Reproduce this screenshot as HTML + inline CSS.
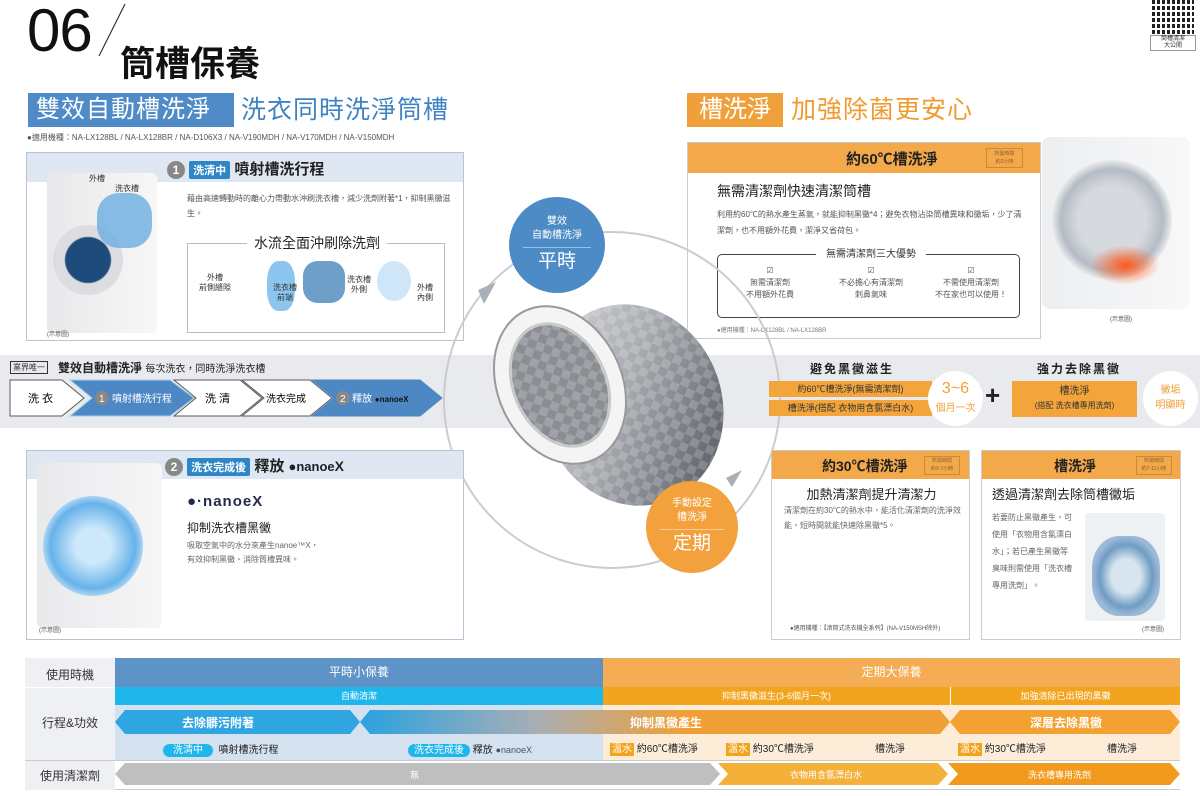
<!DOCTYPE html>
<html><head><meta charset="utf-8"><style>
*{margin:0;padding:0;box-sizing:border-box}
body{width:1200px;height:796px;background:#fff;position:relative;overflow:hidden;font-family:"Liberation Sans","Noto Sans CJK TC",sans-serif;color:#333}
.a{position:absolute}
.c{text-align:center}
.panel{position:absolute;border:1px solid #b8c4d2;background:#fff}
.ph{position:absolute;left:0;right:0;top:0}
.num{display:inline-block;width:18px;height:18px;border-radius:50%;background:#888;color:#fff;font-size:12px;line-height:18px;text-align:center;vertical-align:middle}
.tag{display:inline-block;background:#2e86c6;color:#fff;font-size:11px;padding:1px 4px;border-radius:2px;vertical-align:middle}
.ob{position:absolute;background:#f3a43b;color:#333;font-size:9px;text-align:center}
</style></head><body>
<div class="a" style="left:27px;top:-4px;font-size:60px;color:#111;letter-spacing:-1px">06</div>
<svg class="a" style="left:95px;top:0" width="35" height="60"><line x1="4" y1="56" x2="30" y2="4" stroke="#333" stroke-width="1.2"/></svg>
<div class="a" style="left:120px;top:36px;font-size:35px;font-weight:bold;color:#111">筒槽保養</div>
<div class="a" style="left:1152px;top:0;width:42px;height:34px;background:
repeating-linear-gradient(0deg,transparent 0 4px,#fff 4px 6px),repeating-linear-gradient(90deg,#222 0 3px,#fff 3px 5px)"></div>
<div class="a c" style="left:1150px;top:35px;width:46px;font-size:6px;line-height:7px;border:1px solid #999">筒槽清潔<br>大公開</div>

<div class="a" style="left:28px;top:93px;width:206px;height:34px;background:#4f8bc6;color:#fff;font-size:24px;line-height:34px;padding-left:8px;letter-spacing:1px">雙效自動槽洗淨</div>
<div class="a" style="left:241px;top:93px;font-size:25px;line-height:34px;color:#3f83c3;letter-spacing:1px">洗衣同時洗淨筒槽</div>
<div class="a" style="left:27px;top:132px;font-size:8px;color:#555">●適用機種：NA-LX128BL / NA-LX128BR / NA-D106X3 / NA-V190MDH / NA-V170MDH / NA-V150MDH</div>

<div class="panel" style="left:26px;top:152px;width:438px;height:189px">
 <div class="ph" style="height:29px;background:#dfe7f2"></div>
 <div class="a" style="left:140px;top:5px;font-size:15px;font-weight:bold;color:#222"><span class="num">1</span> <span class="tag">洗清中</span> 噴射槽洗行程</div>
 <div class="a" style="left:20px;top:20px;width:110px;height:160px;background:linear-gradient(90deg,#e8e8ea,#f7f7f8);border-radius:6px"></div>
 <div class="a" style="left:26px;top:72px;width:70px;height:70px;border-radius:50%;background:radial-gradient(#1e4a7c 45%,#dcdde0 48%)"></div>
 <div class="a" style="left:70px;top:40px;width:55px;height:55px;border-radius:40%;background:#6aaee0;opacity:.8"></div>
 <div class="a" style="left:62px;top:20px;font-size:8px">外槽</div>
 <div class="a" style="left:88px;top:30px;font-size:8px">洗衣槽</div>
 <div class="a" style="left:20px;top:176px;font-size:6px;color:#555">(示意圖)</div>
 <div class="a" style="left:160px;top:38px;width:270px;font-size:8px;line-height:15px;color:#555">藉由高速轉動時的離心力帶動水沖刷洗衣槽，減少洗劑附著*1，抑制黑黴滋生。</div>
 <div class="a" style="left:160px;top:90px;width:258px;height:90px;border:1px solid #bbb"></div>
 <div class="a c" style="left:220px;top:80px;width:140px;background:#fff;font-size:14px;color:#222">水流全面沖刷除洗劑</div>
 <div class="a" style="left:240px;top:108px;width:28px;height:50px;border-radius:40%;background:#8cc5ee"></div>
 <div class="a" style="left:276px;top:108px;width:42px;height:42px;border-radius:35%;background:#6e9fc8"></div>
 <div class="a" style="left:350px;top:108px;width:34px;height:40px;border-radius:50%;background:#cfe6f8"></div>
 <div class="a c" style="left:172px;top:120px;font-size:8px;line-height:10px">外槽<br>前側縫隙</div>
 <div class="a c" style="left:246px;top:130px;font-size:8px;line-height:10px">洗衣槽<br>前端</div>
 <div class="a c" style="left:320px;top:122px;font-size:8px;line-height:10px">洗衣槽<br>外側</div>
 <div class="a c" style="left:390px;top:130px;font-size:8px;line-height:10px">外槽<br>內側</div>
</div>

<div class="a" style="left:687px;top:93px;width:96px;height:34px;background:#f0a03a;color:#fff;font-size:24px;line-height:34px;text-align:center">槽洗淨</div>
<div class="a" style="left:791px;top:93px;font-size:25px;line-height:34px;color:#ef9b2f;letter-spacing:1px">加強除菌更安心</div>

<div class="panel" style="left:687px;top:142px;width:354px;height:197px;border-color:#ccc">
 <div class="ph" style="height:30px;background:#f3a84a"></div>
 <div class="a" style="left:158px;top:5px;font-size:15px;font-weight:bold;color:#222">約60℃槽洗淨</div>
 <div class="a c" style="left:298px;top:5px;width:37px;height:20px;border:1px solid #c98a3a;font-size:5px;line-height:8px;color:#8a6030;padding-top:1px">所需時間<br>約2小時</div>
 <div class="a" style="left:29px;top:38px;font-size:14px;color:#222">無需清潔劑快速清潔筒槽</div>
 <div class="a" style="left:29px;top:64px;width:310px;font-size:8px;line-height:16px;color:#555">利用約60℃的熱水產生蒸氣，就能抑制黑黴*4；避免衣物沾染筒槽異味和黴垢，少了清潔劑，也不用額外花費，潔淨又省荷包。</div>
 <div class="a" style="left:29px;top:111px;width:303px;height:64px;border:1px solid #444;border-radius:5px"></div>
 <div class="a c" style="left:128px;top:102px;width:110px;background:#fff;font-size:10px">無需清潔劑三大優勢</div>
 <div class="a c" style="left:32px;top:122px;width:100px;font-size:8px;line-height:12px;color:#555">☑<br>無需清潔劑<br>不用額外花費</div>
 <div class="a c" style="left:133px;top:122px;width:100px;font-size:8px;line-height:12px;color:#555">☑<br>不必擔心有清潔劑<br>刺鼻氣味</div>
 <div class="a c" style="left:228px;top:122px;width:110px;font-size:8px;line-height:12px;color:#555">☑<br>不需使用清潔劑<br>不在家也可以使用！</div>
 <div class="a" style="left:29px;top:182px;font-size:6px;color:#777">●適用機種：NA-LX128BL / NA-LX128BR</div>
</div>
<div class="a" style="left:1042px;top:137px;width:148px;height:172px;background:linear-gradient(90deg,#eceef0,#f8f8f9);border-radius:8px"></div>
<div class="a" style="left:1052px;top:160px;width:120px;height:120px;border-radius:50%;background:radial-gradient(#d6dadf 40%,#b5bcc4 60%,#e6e8ea 70%)"></div>
<div class="a" style="left:1090px;top:245px;width:70px;height:40px;border-radius:50%;background:radial-gradient(#ff5a1f,rgba(255,90,40,0) 70%)"></div>
<div class="a" style="left:1110px;top:314px;font-size:6px;color:#555">(示意圖)</div>

<div class="a" style="left:0;top:355px;width:1200px;height:73px;background:#e8eaed"></div>
<svg class="a" style="left:0;top:0" width="1200" height="796">
 <circle cx="612" cy="400" r="168" fill="none" stroke="#c9ccd0" stroke-width="2"/>
 <polygon points="484,304 496,282 478,290" fill="#aab0b8"/>
 <polygon points="726,478 742,470 732,487" fill="#aab0b8"/>
 <defs>
  <linearGradient id="dg" x1="0" y1="0" x2="1" y2="1"><stop offset="0" stop-color="#d8dadd"/><stop offset=".45" stop-color="#a9acb1"/><stop offset=".8" stop-color="#6d7177"/><stop offset="1" stop-color="#4a4e54"/></linearGradient>
  <pattern id="pt" width="12" height="12" patternUnits="userSpaceOnUse"><polygon points="6,0 12,6 6,12 0,6" fill="#fff" opacity=".18"/></pattern>
 </defs>
 <ellipse cx="632" cy="405" rx="90" ry="102" fill="url(#dg)" transform="rotate(-20 632 405)"/>
 <ellipse cx="632" cy="405" rx="90" ry="102" fill="url(#pt)" transform="rotate(-20 632 405)"/>
 <ellipse cx="560" cy="385" rx="62" ry="82" fill="#f4f4f4" stroke="#999" stroke-width="2" transform="rotate(-25 560 385)"/>
 <ellipse cx="560" cy="385" rx="46" ry="64" fill="#8a8d92" stroke="#c8c8c8" stroke-width="3" transform="rotate(-25 560 385)"/>
 <ellipse cx="560" cy="385" rx="46" ry="64" fill="url(#pt)" transform="rotate(-25 560 385)"/>
</svg>
<div class="a c" style="left:509px;top:197px;width:96px;height:96px;border-radius:50%;background:#4d8bc6;color:#fff;font-size:10px;line-height:14px;padding-top:18px">雙效<br>自動槽洗淨<div style="margin:4px 14px 2px;border-top:1px solid #9cc0e4"></div><span style="font-size:19px;line-height:24px">平時</span></div>
<div class="a c" style="left:646px;top:481px;width:92px;height:92px;border-radius:50%;background:#f2a13d;color:#fff;font-size:10px;line-height:14px;padding-top:16px">手動設定<br>槽洗淨<div style="margin:4px 14px 2px;border-top:1px solid #f8cc90"></div><span style="font-size:19px;line-height:24px">定期</span></div>

<div class="a" style="left:10px;top:361px;font-size:8px;border:1px solid #333;padding:0 2px;line-height:11px">業界唯一</div>
<div class="a" style="left:58px;top:359px;font-size:12px;font-weight:bold;color:#222">雙效自動槽洗淨 <span style="font-size:10px;font-weight:normal">每次洗衣，同時洗淨洗衣槽</span></div>
<svg class="a" style="left:0;top:378px" width="460" height="42">
 <g stroke="#5a5a5a" stroke-width="1">
 <polygon points="10,2 62,2 84,20 62,38 10,38" fill="#fff"/>
 <polygon points="70,2 170,2 194,20 170,38 70,38 92,20" fill="#4d88c4" stroke="#9fcff0"/>
 <polygon points="174,2 240,2 262,20 240,38 174,38 196,20" fill="#fff"/>
 <polygon points="242,2 310,2 332,20 310,38 242,38 264,20" fill="#fff"/>
 <polygon points="312,2 420,2 442,20 420,38 312,38 334,20" fill="#4d88c4" stroke="#4d88c4"/>
 </g>
 <g font-size="11" font-family="Liberation Sans,Noto Sans CJK TC,sans-serif">
 <text x="28" y="24">洗 衣</text>
 <circle cx="102" cy="20" r="7" fill="#888"/><text x="99" y="24" fill="#fff" font-size="10">1</text>
 <text x="112" y="24" fill="#fff" font-size="10">噴射槽洗行程</text>
 <text x="205" y="24">洗 清</text>
 <text x="266" y="24" font-size="10">洗衣完成</text>
 <circle cx="343" cy="20" r="7" fill="#888"/><text x="340" y="24" fill="#fff" font-size="10">2</text>
 <text x="352" y="24" fill="#fff" font-size="10">釋放 <tspan font-weight="bold" fill="#111" font-size="8">●nanoeX</tspan></text>
 </g>
</svg>

<div class="a" style="left:810px;top:360px;font-size:12px;font-weight:bold;color:#222;letter-spacing:2px">避免黑黴滋生</div>
<div class="ob" style="left:769px;top:381px;width:163px;height:16px;line-height:16px">約60℃槽洗淨(無需清潔劑)</div>
<div class="ob" style="left:769px;top:400px;width:163px;height:16px;line-height:16px">槽洗淨(搭配 衣物用含氯漂白水)</div>
<div class="a c" style="left:928px;top:371px;width:55px;height:55px;border-radius:50%;background:#fff;color:#f0a03a;font-size:16px;line-height:18px;padding-top:9px">3~6<br><span style="font-size:10px">個月一次</span></div>
<div class="a" style="left:985px;top:380px;font-size:26px;font-weight:bold;color:#222;line-height:30px">+</div>
<div class="a" style="left:1037px;top:360px;font-size:12px;font-weight:bold;color:#222;letter-spacing:2px">強力去除黑黴</div>
<div class="ob" style="left:1012px;top:381px;width:125px;height:36px;line-height:14px;padding-top:4px;font-size:10px">槽洗淨<br><span style="font-size:8px">(搭配 洗衣槽專用洗劑)</span></div>
<div class="a c" style="left:1143px;top:371px;width:55px;height:55px;border-radius:50%;background:#fff;color:#f0a03a;font-size:10px;line-height:15px;padding-top:12px">黴垢<br>明顯時</div>

<div class="panel" style="left:26px;top:450px;width:438px;height:190px">
 <div class="ph" style="height:28px;background:#dfe7f2"></div>
 <div class="a" style="left:138px;top:4px;font-size:15px;font-weight:bold;color:#222"><span class="num">2</span> <span class="tag">洗衣完成後</span> 釋放 <span style="font-size:13px">●nanoe</span><span style="font-size:14px">X</span></div>
 <div class="a" style="left:10px;top:12px;width:125px;height:165px;background:linear-gradient(90deg,#e8e9eb,#f6f6f7);border-radius:6px"></div>
 <div class="a" style="left:16px;top:45px;width:100px;height:100px;border-radius:50%;background:radial-gradient(#cde8fa 25%,#66b2ea 60%,#a7d3f3 70%)"></div>
 <div class="a" style="left:12px;top:174px;font-size:6px;color:#555">(示意圖)</div>
 <div class="a" style="left:160px;top:42px;font-size:15px;font-weight:bold;color:#1f2a4d;letter-spacing:1px">●·nanoe<span>X</span></div>
 <div class="a" style="left:160px;top:68px;font-size:12px;color:#222">抑制洗衣槽黑黴</div>
 <div class="a" style="left:160px;top:88px;font-size:8px;line-height:14px;color:#666">吸取空氣中的水分來產生nanoe™X，<br>有效抑制黑黴、消除筒槽異味。</div>
</div>

<div class="panel" style="left:771px;top:450px;width:199px;height:190px;border-color:#ccc">
 <div class="ph" style="height:28px;background:#f3a84a"></div>
 <div class="a" style="left:50px;top:5px;font-size:14px;font-weight:bold;color:#222">約30℃槽洗淨</div>
 <div class="a c" style="left:152px;top:5px;width:36px;height:19px;border:1px solid #c98a3a;font-size:5px;line-height:8px;color:#8a6030">所需時間<br>約3-7小時</div>
 <div class="a c" style="left:0;top:33px;width:199px;font-size:13px;color:#222">加熱清潔劑提升清潔力</div>
 <div class="a" style="left:12px;top:52px;width:180px;font-size:8px;line-height:15px;color:#666">清潔劑在約30℃的熱水中，能活化清潔劑的洗淨效能，短時間就能快速除黑黴*5。</div>
 <div class="a" style="left:18px;top:172px;font-size:6px;color:#555">●適用機種：【滾筒式洗衣機全系列】(NA-V150MSH除外)</div>
</div>

<div class="panel" style="left:981px;top:450px;width:200px;height:190px;border-color:#ccc">
 <div class="ph" style="height:28px;background:#f3a84a"></div>
 <div class="a" style="left:72px;top:5px;font-size:14px;font-weight:bold;color:#222">槽洗淨</div>
 <div class="a c" style="left:154px;top:5px;width:36px;height:19px;border:1px solid #c98a3a;font-size:5px;line-height:8px;color:#8a6030">所需時間<br>約7-11小時</div>
 <div class="a" style="left:10px;top:33px;font-size:13px;color:#222">透過清潔劑去除筒槽黴垢</div>
 <div class="a" style="left:10px;top:58px;width:82px;font-size:8px;line-height:17px;color:#666">若要防止黑黴產生，可使用「衣物用含氯漂白水」；若已產生黑黴等臭味則需使用「洗衣槽專用洗劑」。</div>
 <div class="a" style="left:103px;top:62px;width:80px;height:108px;background:#eef1f4;border-radius:4px"></div>
 <div class="a" style="left:110px;top:85px;width:68px;height:80px;border-radius:40%;background:radial-gradient(#d8e4ee 30%,#6f9cc4 55%,#9bbad6 70%)"></div>
 <div class="a" style="left:160px;top:173px;font-size:6px;color:#555">(示意圖)</div>
</div>

<div class="a" style="left:25px;top:658px;width:1155px;height:132px;border-top:1px solid #ccc;border-bottom:1px solid #ccc"></div>
<div class="a" style="left:25px;top:658px;width:90px;height:132px;background:#eef0f3"></div>
<div class="a c" style="left:25px;top:666px;width:90px;font-size:12px">使用時機</div>
<div class="a c" style="left:25px;top:714px;width:90px;font-size:12px">行程&amp;功效</div>
<div class="a c" style="left:25px;top:767px;width:90px;font-size:12px">使用清潔劑</div>
<div class="a" style="left:25px;top:687px;width:1155px;border-top:1px solid #fff"></div>
<div class="a c" style="left:115px;top:658px;width:488px;height:29px;background:#5e93c8;color:#fff;font-size:12px;line-height:29px">平時小保養</div>
<div class="a c" style="left:603px;top:658px;width:577px;height:29px;background:#f4ad55;color:#fff;font-size:12px;line-height:29px">定期大保養</div>
<div class="a c" style="left:115px;top:687px;width:488px;height:18px;background:#1fb7eb;color:#fff;font-size:9px;line-height:18px">自動清潔</div>
<div class="a c" style="left:603px;top:687px;width:347px;height:18px;background:#f3a41f;color:#fff;font-size:9px;line-height:18px">抑制黑黴滋生(3-6個月一次)</div>
<div class="a c" style="left:950px;top:687px;width:230px;height:18px;background:#f3a41f;color:#fff;font-size:9px;line-height:18px;border-left:1px solid #fff">加強清除已出現的黑黴</div>
<div class="a" style="left:115px;top:705px;width:488px;height:55px;background:#d4e2f0"></div>
<div class="a" style="left:603px;top:705px;width:577px;height:55px;background:#fcecd8"></div>
<svg class="a" style="left:115px;top:710px" width="1065" height="28">
 <defs><linearGradient id="gg" x1="0" x2="1"><stop offset="0" stop-color="#2aa2e0"/><stop offset=".3" stop-color="#a8aeb5"/><stop offset=".55" stop-color="#f0a036"/><stop offset="1" stop-color="#f0a036"/></linearGradient></defs>
 <polygon points="0,12 10,0 235,0 245,12 235,24 10,24" fill="#2fa6e2"/>
 <polygon points="245,12 255,0 825,0 835,12 825,24 255,24" fill="url(#gg)"/>
 <polygon points="835,12 845,0 1055,0 1065,12 1055,24 845,24" fill="#f3a232"/>
 <g fill="#fff" font-size="12" font-weight="bold" font-family="Liberation Sans,Noto Sans CJK TC,sans-serif">
 <text x="67" y="17">去除髒污附著</text><text x="515" y="17">抑制黑黴產生</text><text x="915" y="17">深層去除黑黴</text></g>
</svg>
<div class="a" style="left:163px;top:741px;font-size:10px;color:#222"><span style="background:#1fb7eb;color:#fff;border-radius:8px;padding:1px 10px">洗清中</span> &nbsp;噴射槽洗行程</div>
<div class="a" style="left:408px;top:741px;font-size:10px;color:#222"><span style="background:#1fb7eb;color:#fff;border-radius:8px;padding:1px 6px">洗衣完成後</span> 釋放 <span style="color:#456;font-size:9px">●nanoeX</span></div>
<div class="a" style="left:610px;top:740px;font-size:10px;color:#222"><span style="background:#f3a41f;color:#fff;padding:1px 2px">溫水</span> 約60℃槽洗淨</div>
<div class="a" style="left:726px;top:740px;font-size:10px;color:#222"><span style="background:#f3a41f;color:#fff;padding:1px 2px">溫水</span> 約30℃槽洗淨</div>
<div class="a" style="left:875px;top:740px;font-size:10px;color:#222">槽洗淨</div>
<div class="a" style="left:958px;top:740px;font-size:10px;color:#222"><span style="background:#f3a41f;color:#fff;padding:1px 2px">溫水</span> 約30℃槽洗淨</div>
<div class="a" style="left:1107px;top:740px;font-size:10px;color:#222">槽洗淨</div>
<div class="a" style="left:25px;top:760px;width:1155px;border-top:1px solid #ccc"></div>
<svg class="a" style="left:115px;top:763px" width="1065" height="24">
 <polygon points="0,11 10,0 595,0 605,11 595,22 10,22" fill="#bfbfbf"/>
 <polygon points="603,0 823,0 833,11 823,22 603,22 613,11" fill="#f4b13a"/>
 <polygon points="833,0 1055,0 1065,11 1055,22 833,22 843,11" fill="#f29a1d"/>
 <g fill="#fff" font-size="9" font-family="Liberation Sans,Noto Sans CJK TC,sans-serif">
 <text x="295" y="15">無</text><text x="675" y="15">衣物用含氯漂白水</text><text x="913" y="15">洗衣槽專用洗劑</text></g>
</svg>
</body></html>
